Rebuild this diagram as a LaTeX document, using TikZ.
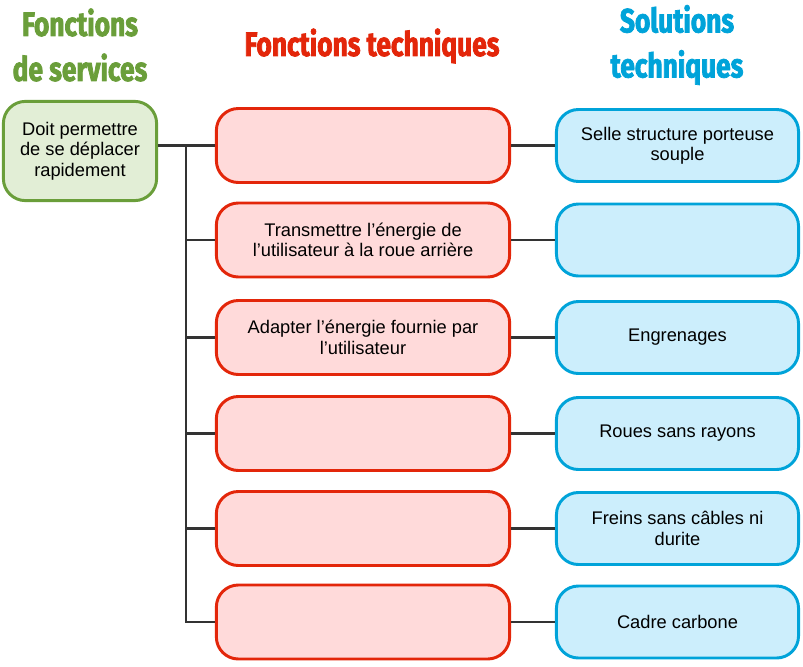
\documentclass[tikz,border=0pt]{standalone}
\usepackage{fontspec}
\setmainfont{Liberation Sans}
\newfontfamily\headfont[FakeStretch=0.78, FakeBold=2.2]{Fira Sans}
\usetikzlibrary{positioning}
\definecolor{vertFS}{HTML}{6A9E3A}
\definecolor{fondFS}{HTML}{E2EED6}
\definecolor{rougeFT}{HTML}{E3260A}
\definecolor{fondFT}{HTML}{FFDADA}
\definecolor{bleuST}{HTML}{00A3D9}
\definecolor{fondST}{HTML}{CCEEFC}
\tikzstyle{boite} = [rectangle, rounded corners=0.55cm, line width=2.1pt,
align=center, font=\fontsize{13}{14.5}\selectfont]
\tikzstyle{fs} = [boite, draw=vertFS, fill=fondFS, minimum width=3.83cm, minimum height=2.48cm]
\tikzstyle{ft} = [boite, draw=rougeFT, fill=fondFT, minimum width=7.33cm, minimum height=1.85cm]
\tikzstyle{st} = [boite, draw=bleuST, fill=fondST, minimum width=6.05cm, minimum height=1.8cm]
\tikzstyle{titre} = [align=center, font=\headfont\bfseries\fontsize{24}{32}\selectfont]
\tikzstyle{lien} = [line width=1.5pt, draw=black!80]

\begin{document}
\begin{tikzpicture}[x=0.025cm, y=-0.025cm]
        \useasboundingbox (0,0) rectangle (803,666);

        % Titres des colonnes
        \node[titre, text=vertFS] (tfs) at (80,45) {Fonctions\\de services};
        \node[titre, text=rougeFT] (tft) at (372,46) {Fonctions techniques};
        \node[titre, text=bleuST] (tst) at (677,45) {Solutions\\techniques};

        % Fonction de service
        \node[fs] (fs) at (80,151) {Doit permettre\\de se déplacer\\rapidement};

        % Fonctions techniques
        \node[ft] (ft1) at (363,145.5) {};
        \node[ft] (ft2) at (363,240) {Transmettre l’énergie de\\l’utilisateur à la roue arrière};
        \node[ft] (ft3) at (363,337.5) {Adapter l’énergie fournie par\\l’utilisateur};
        \node[ft] (ft4) at (363,433.5) {};
        \node[ft] (ft5) at (363,528.5) {};
        \node[ft] (ft6) at (363,622) {};

        % Solutions techniques
        \node[st] (st1) at (677.5,145.5) {Selle structure porteuse\\souple};
        \node[st] (st2) at (677.5,240) {};
        \node[st] (st3) at (677.5,337.5) {Engrenages};
        \node[st] (st4) at (677.5,433.5) {Roues sans rayons};
        \node[st] (st5) at (677.5,528.5) {Freins sans câbles ni\\durite};
        \node[st] (st6) at (677.5,622) {Cadre carbone};

        % Liaisons
        \coordinate (bus) at (186,145.5);
        \draw[lien] (fs.east |- ft1) -- (ft1);
        \draw[lien] (bus) |- (ft6);
        \foreach \i in {1,...,6} {
            \draw[lien] (bus |- ft\i) -- (ft\i);
            \draw[lien] (ft\i) -- (st\i);
        }
\end{tikzpicture}
\end{document}
